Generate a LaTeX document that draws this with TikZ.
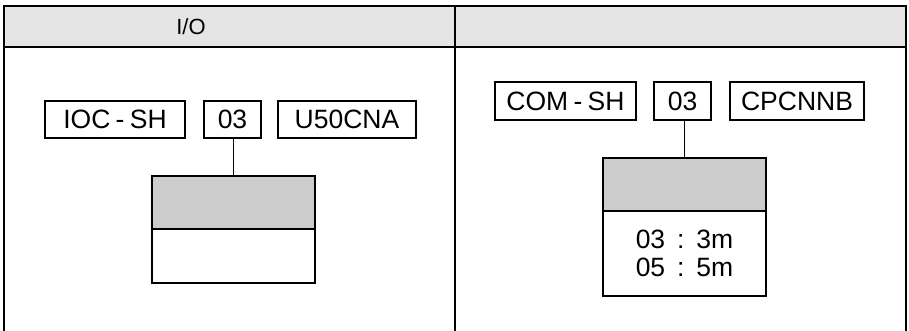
\documentclass[tikz,border=0pt]{standalone}
\usepackage{fontspec}
\setmainfont{Liberation Sans}
\definecolor{hdrgray}{HTML}{E5E5E5}
\definecolor{boxgray}{HTML}{CCCCCC}
\newcommand{\nsp}{\hspace{0.2em}}
\newcommand{\wsp}{\hspace{0.45em}}
\begin{document}
\begin{tikzpicture}[x=1pt,y=-1pt,
  tbl/.style={line width=2pt},
  lbl/.style={draw, line width=1.6pt, inner sep=0pt, minimum height=37.5pt,
    font=\fontsize{26.5}{30}\selectfont},
  part/.style={draw, line width=1.6pt, inner sep=0pt, minimum width=163pt},
  conn/.style={line width=1.6pt}]
\useasboundingbox (0,0) rectangle (909,331);
% table
\fill[hdrgray] (3.5,6.5) rectangle (906,47);
\draw[tbl] (3.5,331) -- (3.5,6.5) -- (906,6.5) -- (906,331);
\draw[tbl] (3.5,47) -- (906,47);
\draw[tbl] (455,6.5) -- (455,331);
\node[font=\fontsize{22}{26}\selectfont] (hio) at (191,27) {I/O};
% left panel
\node[lbl, minimum width=140pt] (ioc) at (115,119.5) {IOC\nsp-\nsp SH};
\node[lbl, minimum width=57pt] (ia) at (232.5,119.5) {03};
\node[lbl, minimum width=138pt] (ib) at (347,119.5) {U50CNA};
\node[part, fill=boxgray, minimum height=53pt] (itop) at (233.5,202.5) {};
\node[part, minimum height=54pt] (ibot) at (233.5,256) {};
\draw[conn] (itop.north) -- (itop.north |- ia.south);
% right panel
\node[lbl, minimum width=141pt] (com) at (565.5,101) {COM\nsp-\nsp SH};
\node[lbl, minimum width=57pt] (ca) at (682.5,101) {03};
\node[lbl, minimum width=134pt] (cb) at (797,101) {CPCNNB};
\node[part, fill=boxgray, minimum height=53pt] (ctop) at (684.5,184.5) {};
\node[part, minimum height=85pt, align=center,
  font=\fontsize{26.5}{28}\selectfont] (cbot) at (684.5,253.5) {03\wsp:\wsp 3m\\05\wsp:\wsp 5m};
\draw[conn] (ctop.north) -- (ctop.north |- ca.south);
\end{tikzpicture}
\end{document}
